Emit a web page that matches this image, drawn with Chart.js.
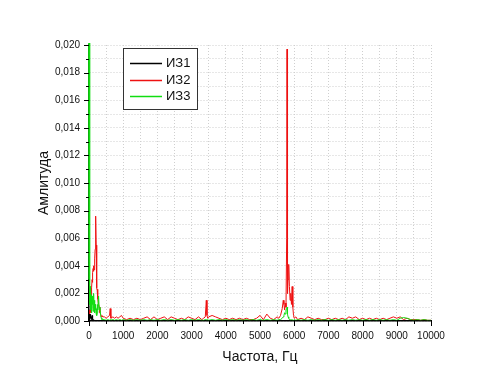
<!DOCTYPE html>
<html>
<head>
<meta charset="utf-8">
<script src="https://cdn.jsdelivr.net/npm/chart.js@4/dist/chart.umd.min.js"></script>
<style>
  html, body { margin: 0; padding: 0; background: #fff; }
  #wrap { width: 500px; height: 386px; }
</style>
</head>
<body>
<div id="wrap"><canvas id="c" width="500" height="386"></canvas></div>
<script>
// Frequency, Hz
const freq = [
  0,10,20,30,40,50,60,70,80,90,
  100,110,120,130,140,150,160,170,180,190,
  200,210,220,230,240,250,260,280,300,320,
  340,360,380,400,450,500,550,600,620,640,
  700,750,800,850,900,950,
  1000,1100,1200,1300,1400,1500,1600,1700,1800,1900,
  2000,2100,2200,2300,2400,2500,2600,2700,2800,2900,
  3000,3100,3200,3300,
  3350,3400,3430,3450,3470,3500,
  3600,3700,3800,3900,4000,4100,4200,4300,4400,4500,
  4600,4700,4800,4900,5000,5100,5200,5300,5400,5500,
  5550,5600,5650,5680,5700,5720,5740,5760,5780,5790,
  5800,5810,5820,5840,5860,5880,5900,5920,5940,5960,
  5980,6000,6050,
  6100,6200,6300,6400,6500,6600,6700,6800,6900,7000,
  7100,7200,7300,7400,7500,7600,7700,7800,7900,8000,
  8100,8200,8300,8400,8500,8600,8700,8800,8900,9000,
  9100,9200,9300,9400,9500,9600,9700,9800,9900,10000
];

// ИЗ1 (black)
const iz1 = [
  0.0002,0.0005,0.0001,0.0004,0.0002,0.0005,0.0001,0.0003,0.0002,0.0004,
  0.0001,0.0002,0.00005,0.0001,0.00003,0.00005,0.00003,0.00003,0.00003,0.00003,
  0.00002,0.00002,0.00002,0.00002,0.00002,0.00002,0.00002,0.00002,0.00002,0.00002,
  0.00002,0.00002,0.00002,0.00002,0.00002,0.00002,0.00002,0.00002,0.00002,0.00002,
  0.00002,0.00002,0.00002,0.00002,0.00002,0.00002,
  0.00002,0.00002,0.00002,0.00002,0.00002,0.00002,0.00002,0.00002,0.00002,0.00002,
  0.00002,0.00002,0.00002,0.00002,0.00002,0.00002,0.00002,0.00002,0.00002,0.00002,
  0.00002,0.00002,0.00002,0.00002,
  0.00002,0.00002,0.00002,0.00002,0.00002,0.00002,
  0.00002,0.00002,0.00002,0.00002,0.00002,0.00002,0.00002,0.00002,0.00002,0.00002,
  0.00002,0.00002,0.00002,0.00002,0.00002,0.00002,0.00002,0.00002,0.00002,0.00002,
  0.00002,0.00002,0.00002,0.00002,0.00002,0.00002,0.00002,0.00002,0.00002,0.00002,
  0.00002,0.00002,0.00002,0.00002,0.00002,0.00002,0.00002,0.00002,0.00002,0.00002,
  0.00002,0.00002,0.00002,
  0.00002,0.00002,0.00002,0.00002,0.00002,0.00002,0.00002,0.00002,0.00002,0.00002,
  0.00002,0.00002,0.00002,0.00002,0.00002,0.00002,0.00002,0.00002,0.00002,0.00002,
  0.00002,0.00002,0.00002,0.00002,0.00002,0.00002,0.00002,0.00002,0.00002,0.00002,
  0.00002,0.00002,0.00002,0.00002,0.00002,0.00002,0.00002,0.00002,0.00002,0.00002
];

// ИЗ2 (red)
const iz2 = [
  0.0003,0.0005,0.0008,0.0006,0.0012,0.0010,0.0018,0.0015,0.0024,0.0030,
  0.0028,0.0035,0.0038,0.0036,0.0040,0.0037,0.0039,0.0045,0.0052,0.0062,
  0.0076,0.0055,0.0035,0.0024,0.0022,0.0023,0.0016,0.0012,0.0010,0.0006,
  0.0005,0.0003,0.0004,0.0003,0.0003,0.0002,0.0003,0.0004,0.0009,0.0002,
  0.0003,0.0002,0.0003,0.0002,0.0003,0.0004,
  0.0002,0.0001,0.0002,0.0001,0.0002,0.0001,0.0002,0.0003,0.0001,0.0003,
  0.0001,0.0002,0.0003,0.0001,0.0003,0.0002,0.0001,0.0002,0.0001,0.0003,
  0.0002,0.0001,0.0003,0.0001,
  0.0002,0.0003,0.0015,0.0004,0.0002,0.0003,
  0.0004,0.0003,0.0002,0.0001,0.0002,0.0001,0.0002,0.0001,0.0002,0.0001,
  0.0002,0.0001,0.0001,0.0002,0.0004,0.0001,0.0005,0.0002,0.0001,0.0003,
  0.0002,0.0004,0.0009,0.0015,0.0012,0.0008,0.0013,0.0010,0.0060,0.0197,
  0.0080,0.0020,0.0030,0.0041,0.0025,0.0015,0.0020,0.0012,0.0025,0.0010,
  0.0004,0.0002,0.0003,
  0.0001,0.0002,0.0001,0.0003,0.0002,0.0001,0.0002,0.0001,0.0001,0.0002,
  0.0001,0.0002,0.0001,0.0002,0.0001,0.0003,0.0002,0.0003,0.0001,0.0002,
  0.0001,0.0002,0.0001,0.0002,0.0001,0.0002,0.0001,0.0002,0.0003,0.0002,
  0.0003,0.0001,0.0002,0.0001,0.0001,0.0001,0.00005,0.0001,0.00005,0.00005
];

// ИЗ3 (green)
const iz3 = [
  0.0300,0.0030,0.0012,0.0025,0.0008,0.0022,0.0010,0.0019,0.0006,0.0016,
  0.0012,0.0018,0.0007,0.0014,0.0020,0.0009,0.0015,0.0006,0.0012,0.0008,
  0.0010,0.0005,0.0009,0.0004,0.0006,0.0012,0.0008,0.0018,0.0008,0.0010,
  0.0004,0.0002,0.0001,0.0001,0.0001,0.00005,0.0001,0.00005,0.0001,0.00005,
  0.0001,0.00005,0.0001,0.00005,0.0001,0.00005,
  0.0001,0.00005,0.0001,0.00005,0.0001,0.00005,0.0001,0.00005,0.0001,0.00005,
  0.0001,0.00005,0.0001,0.00005,0.0001,0.00005,0.0001,0.00005,0.0001,0.00005,
  0.0001,0.00005,0.0001,0.00005,
  0.00005,0.0001,0.0001,0.00005,0.0001,0.00005,
  0.0001,0.00005,0.0001,0.00005,0.0001,0.00005,0.0001,0.00005,0.0001,0.00005,
  0.0001,0.00005,0.0001,0.00005,0.0001,0.00005,0.0001,0.00005,0.0001,0.00005,
  0.0001,0.0001,0.0002,0.0003,0.0004,0.0006,0.0005,0.0008,0.0009,0.0010,
  0.0007,0.0005,0.0003,0.0002,0.0001,0.0001,0.00005,0.0001,0.00005,0.0001,
  0.00005,0.0001,0.00005,
  0.0001,0.00005,0.0001,0.00005,0.0001,0.00005,0.0001,0.00005,0.0001,0.00005,
  0.0001,0.00005,0.0001,0.00005,0.0001,0.00005,0.0001,0.00005,0.0001,0.00005,
  0.0001,0.00005,0.0001,0.00005,0.0001,0.00005,0.0001,0.00005,0.0001,0.00005,
  0.0002,0.00025,0.0002,0.0001,0.00005,0.0001,0.00005,0.0001,0.00005,0.00005
];

const seriesNames = ['ИЗ1', 'ИЗ2', 'ИЗ3'];
const xTitle = 'Частота, Гц';
const yTitle = 'Амлитуда';

const toPoints = arr => freq.map((f, i) => ({ x: f, y: arr[i] }));
const FONT = '"Liberation Sans", Arial, sans-serif';

const tickMarks = {
  id: 'tickMarks',
  afterDraw(chart) {
    const { ctx, chartArea: a } = chart;
    const xs = chart.scales.x, ys = chart.scales.y;
    ctx.save();
    ctx.strokeStyle = '#000';
    ctx.lineWidth = 1;
    ctx.beginPath();
    xs.ticks.forEach(t => {
      const px = Math.round(xs.getPixelForValue(t.value)) + 0.5;
      const major = Math.round(t.value) % 1000 === 0;
      ctx.moveTo(px, a.bottom);
      ctx.lineTo(px, a.bottom + (major ? 5 : 3));
    });
    ys.ticks.forEach(t => {
      const py = Math.round(ys.getPixelForValue(t.value)) + 0.5;
      const major = Math.round(t.value * 1000) % 2 === 0;
      ctx.moveTo(a.left, py);
      ctx.lineTo(a.left - (major ? 5 : 3), py);
    });
    ctx.stroke();
    ctx.restore();
  }
};

const boxLegend = {
  id: 'boxLegend',
  afterDraw(chart) {
    const { ctx, chartArea: a } = chart;
    const x0 = a.left + 34, y0 = a.top + 3, w = 74, h = 61;
    ctx.save();
    ctx.fillStyle = '#fff';
    ctx.fillRect(x0, y0, w, h);
    ctx.strokeStyle = '#333';
    ctx.lineWidth = 1;
    ctx.strokeRect(x0 + 0.5, y0 + 0.5, w, h);
    ctx.font = '13px ' + FONT;
    ctx.textBaseline = 'middle';
    ctx.textAlign = 'left';
    chart.data.datasets.forEach((ds, i) => {
      const y = Math.round(y0 + 15 + i * 16.7) + 0.5;
      ctx.strokeStyle = ds.borderColor;
      ctx.lineWidth = 1.5;
      ctx.beginPath();
      ctx.moveTo(x0 + 7, y);
      ctx.lineTo(x0 + 39, y);
      ctx.stroke();
      ctx.fillStyle = '#111';
      ctx.fillText(ds.label, x0 + 43, y);
    });
    ctx.restore();
  }
};

new Chart(document.getElementById('c'), {
  type: 'line',
  data: {
    datasets: [
      { label: seriesNames[0], data: toPoints(iz1), borderColor: '#000000', borderWidth: 1, pointRadius: 0, order: 0 },
      { label: seriesNames[1], data: toPoints(iz2), borderColor: '#ee1111', borderWidth: 1, pointRadius: 0, order: 2 },
      { label: seriesNames[2], data: toPoints(iz3), borderColor: '#11dd11', borderWidth: 1, pointRadius: 0, order: 1,
        clip: 2,
        segment: { borderWidth: c => (c.p0DataIndex === 0 ? 2 : undefined) } }
    ]
  },
  options: {
    responsive: false,
    animation: false,
    devicePixelRatio: 1,
    layout: { padding: { left: 36, top: 45, right: 69, bottom: 20 } },
    plugins: { legend: { display: false }, tooltip: { enabled: false } },
    elements: { line: { tension: 0 } },
    scales: {
      x: {
        type: 'linear',
        min: 0, max: 10000,
        afterFit(s) { s.height = 45; },
        ticks: {
          stepSize: 500, autoSkip: false, maxRotation: 0, padding: 9,
          color: '#111', font: { family: FONT, size: 10 },
          callback: v => (Math.round(v) % 1000 === 0 ? String(Math.round(v)) : '')
        },
        grid: { color: '#cfcfcf', lineWidth: 1, drawTicks: false },
        border: { display: true, color: '#000', width: 1.5, dash: [1, 2] },
        title: { display: true, text: xTitle, color: '#111', padding: 0, font: { family: FONT, size: 14 } }
      },
      y: {
        min: 0, max: 0.02,
        afterFit(s) { s.width = 53; },
        ticks: {
          stepSize: 0.001, autoSkip: false, padding: 9,
          color: '#111', font: { family: FONT, size: 10 },
          callback: v => (Math.round(v * 1000) % 2 === 0 ? v.toFixed(3).replace('.', ',') : '')
        },
        grid: { color: '#cfcfcf', lineWidth: 1, drawTicks: false },
        border: { display: true, color: '#000', width: 1.5, dash: [1, 2] },
        title: { display: true, text: yTitle, color: '#111', padding: 0, font: { family: FONT, size: 14 } }
      }
    }
  },
  plugins: [tickMarks, boxLegend]
});
</script>
</body>
</html>
